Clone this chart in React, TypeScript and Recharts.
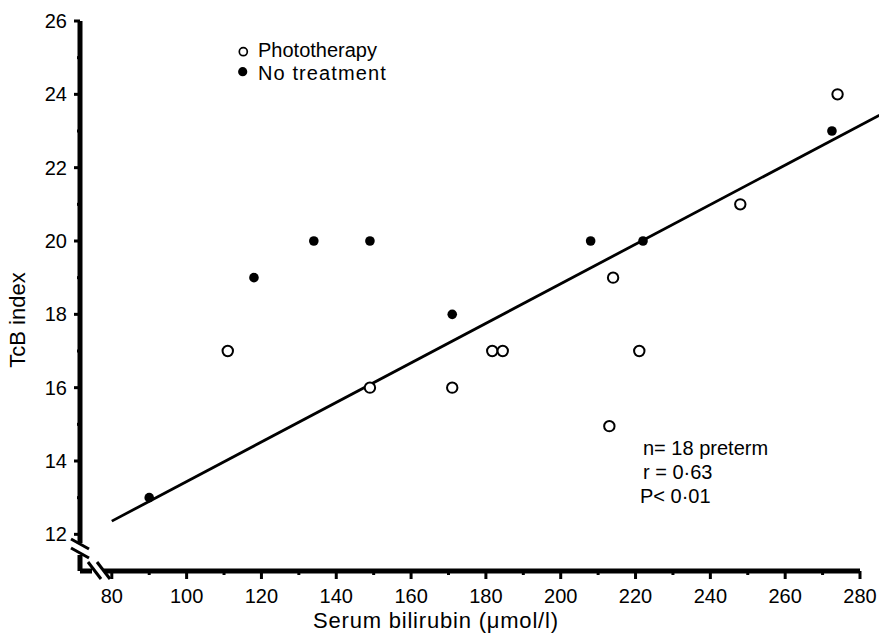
import { ScatterChart, Scatter, XAxis, YAxis, ReferenceLine, Legend } from 'recharts';

const W = 879;
const H = 637;
const FONT = "'Liberation Sans', Arial, sans-serif";

// axis ticks
const X_MAJOR = [80, 100, 120, 140, 160, 180, 200, 220, 240, 260, 280];
const X_MINOR = [90, 110, 130, 150, 170, 190, 210, 230, 250, 270];
const Y_MAJOR = [12, 14, 16, 18, 20, 22, 24, 26];
const Y_MINOR = [13, 15, 17, 19, 21, 23, 25];

// phototherapy (open circles)
const PHOTO_SERUM = [111, 149, 171, 181.7, 184.5, 213, 214, 221, 248, 274];
const PHOTO_TCB = [17, 16, 16, 17, 17, 14.95, 19, 17, 21, 24];

// no treatment (filled dots)
const NOTREAT_SERUM = [90, 118, 134, 149, 171, 208, 222, 272.5];
const NOTREAT_TCB = [13, 19, 20, 20, 18, 20, 20, 23];

// regression line end points
const FIT_START = { x: 80, y: 12.36 };
const FIT_END = { x: 285.2, y: 23.43 };

const STATS = ['n= 18 preterm', 'r = 0·63', 'P< 0·01'];

const photoData = PHOTO_SERUM.map((x, i) => ({ x, y: PHOTO_TCB[i] }));
const noTreatData = NOTREAT_SERUM.map((x, i) => ({ x, y: NOTREAT_TCB[i] }));

function XTick(props: any) {
  const { x, y, payload } = props;
  const major = X_MAJOR.includes(payload.value);
  return (
    <g>
      <line x1={x} x2={x} y1={y} y2={y + (major ? 8 : 4)} stroke="#000" strokeWidth={3} />
      {major && (
        <text x={x} y={y + 32} textAnchor="middle" fontFamily={FONT} fontSize={20} fill="#000">
          {payload.value}
        </text>
      )}
    </g>
  );
}

function YTick(props: any) {
  const { x, y, payload } = props;
  const major = Y_MAJOR.includes(payload.value);
  return (
    <g>
      <line x1={x} x2={x - (major ? 6 : 3)} y1={y} y2={y} stroke="#000" strokeWidth={3} />
      {major && (
        <text x={x - 13} y={y + 7} textAnchor="end" fontFamily={FONT} fontSize={20} fill="#000">
          {payload.value}
        </text>
      )}
    </g>
  );
}

const OpenDot = (props: any) => (
  <circle cx={props.cx} cy={props.cy} r={5.2} fill="#fff" stroke="#000" strokeWidth={2} />
);
const FilledDot = (props: any) => <circle cx={props.cx} cy={props.cy} r={4.8} fill="#000" />;

function LegendBox() {
  return (
    <svg width={170} height={52}>
      <circle cx={9.3} cy={15.7} r={4} fill="#fff" stroke="#000" strokeWidth={1.7} />
      <text x={24} y={21} fontFamily={FONT} fontSize={20} fill="#000">
        Phototherapy
      </text>
      <circle cx={8.7} cy={35.7} r={4.6} fill="#000" />
      <text x={24} y={44} fontFamily={FONT} fontSize={20} letterSpacing={1.1} fill="#000">
        No treatment
      </text>
    </svg>
  );
}

export default function App() {
  return (
    <div style={{ position: 'absolute', left: 0, top: 0, width: W, height: H, background: '#fff' }}>
      <ScatterChart width={W} height={H} margin={{ top: 21, right: 19, bottom: 26, left: 20 }}>
        <XAxis
          type="number"
          dataKey="x"
          domain={[71.5, 280]}
          ticks={[...X_MAJOR, ...X_MINOR].sort((a, b) => a - b)}
          interval={0}
          height={40}
          tickSize={0}
          tickMargin={0}
          tickLine={false}
          tick={<XTick />}
          axisLine={{ stroke: '#000', strokeWidth: 5 }}
        />
        <YAxis
          type="number"
          dataKey="y"
          domain={[11, 26]}
          ticks={[...Y_MAJOR, ...Y_MINOR].sort((a, b) => a - b)}
          interval={0}
          width={60}
          tickSize={0}
          tickMargin={0}
          tickLine={false}
          tick={<YTick />}
          axisLine={{ stroke: '#000', strokeWidth: 5 }}
        />
        <ReferenceLine
          segment={[FIT_START, FIT_END]}
          stroke="#000"
          strokeWidth={2.8}
          ifOverflow="visible"
        />
        <Scatter name="Phototherapy" data={photoData} shape={OpenDot} isAnimationActive={false} />
        <Scatter name="No treatment" data={noTreatData} shape={FilledDot} isAnimationActive={false} />
        <Legend
          layout="vertical"
          align="center"
          verticalAlign="middle"
          wrapperStyle={{ top: 36, left: 234, width: 170, height: 52 }}
          content={() => <LegendBox />}
        />
      </ScatterChart>
      <svg
        width={W}
        height={H}
        style={{ position: 'absolute', left: 0, top: 0, pointerEvents: 'none' }}
      >
        {/* axis breaks */}
        <rect x={73} y={543} width={14} height={12} fill="#fff" />
        <line x1={71} y1={539} x2={89} y2={549} stroke="#000" strokeWidth={3} />
        <line x1={71} y1={548} x2={89} y2={558} stroke="#000" strokeWidth={3} />
        <rect x={92} y={565} width={12} height={12} fill="#fff" />
        <line x1={88} y1={562} x2={101} y2={579} stroke="#000" strokeWidth={3} />
        <line x1={97} y1={562} x2={110} y2={579} stroke="#000" strokeWidth={3} />
        {/* axis titles */}
        <text x={313} y={628} fontFamily={FONT} fontSize={22} letterSpacing={0.8} fill="#000">
          Serum bilirubin (μmol/l)
        </text>
        <text
          x={0}
          y={0}
          transform="translate(25 320) rotate(-90)"
          textAnchor="middle"
          fontFamily={FONT}
          fontSize={22}
          fill="#000"
        >
          TcB index
        </text>
        {/* statistics */}
        {STATS.map((s, i) => (
          <text key={s} x={i === 2 ? 640 : 643} y={455 + i * 24} fontFamily={FONT} fontSize={20} fill="#000">
            {s}
          </text>
        ))}
      </svg>
    </div>
  );
}
